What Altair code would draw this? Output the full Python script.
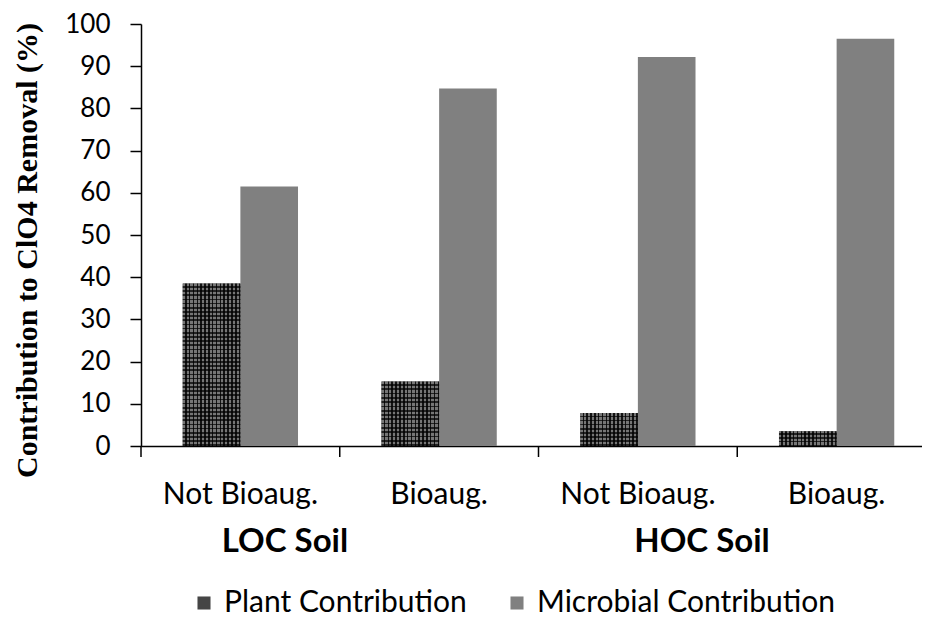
import altair as alt
import pandas as pd

soil = ["LOC Soil", "LOC Soil", "HOC Soil", "HOC Soil"]
treatment = ["Not Bioaug.", "Bioaug.", "Not Bioaug.", "Bioaug."]
plant = [38.5, 15.3, 7.8, 3.5]
microbial = [61.5, 84.7, 92.2, 96.5]
series = ["Plant Contribution", "Microbial Contribution"]
colors = ["#454545", "#808080"]
y_ticks = list(range(0, 101, 10))
group_labels = ["LOC Soil", "HOC Soil"]

keys = [f"{s}|{t}" for s, t in zip(soil, treatment)]
rows = []
for k, s, t, p, m in zip(keys, soil, treatment, plant, microbial):
    rows.append({"key": k, "series": series[0], "value": p})
    rows.append({"key": k, "series": series[1], "value": m})
df = pd.DataFrame(rows)

W, H = 781, 422
STEP = 795 / 4
PAD_IN = 0.42
xscale = alt.Scale(domain=keys, range=[0, 795], paddingInner=PAD_IN, paddingOuter=PAD_IN / 2)
yscale = alt.Scale(domain=[0, 100], nice=False)
xoff_scale = alt.Scale(domain=series, paddingInner=0, paddingOuter=0)
x_axis = alt.Axis(title=None, ticks=False, labelAngle=0,
                  labelExpr="split(datum.label, '|')[1]",
                  labelFont="Lato", labelFontSize=30, labelColor="black",
                  labelPadding=33, domainColor="black", domainWidth=1.5)
y_axis = alt.Axis(values=y_ticks, tickSize=11, tickColor="black", tickWidth=1.5,
                  domainColor="black", domainWidth=1.5, grid=False,
                  labelFont="Lato", labelFontSize=26, labelColor="black",
                  labelPadding=20,
                  title="Contribution to ClO4 Removal (%)",
                  titleFont="Liberation Serif", titleFontSize=30,
                  titleFontWeight="bold", titleColor="black",
                  titleAngle=270, titleX=-114, titleY=226,
                  titleAlign="center", titleBaseline="middle")


def stripes(n, c1, c2, frac, vertical_lines):
    stops = []
    for i in range(n):
        a, b, c = i / n, (i + frac) / n, (i + 1) / n
        stops += [alt.GradientStop(offset=a, color=c1), alt.GradientStop(offset=b, color=c1),
                  alt.GradientStop(offset=b, color=c2), alt.GradientStop(offset=min(c, 1.0), color=c2)]
    if vertical_lines:
        return alt.LinearGradient(gradient="linear", stops=stops, x1=0, y1=0, x2=1, y2=0)
    return alt.LinearGradient(gradient="linear", stops=stops, x1=0, y1=0, x2=0, y2=1)


enc = dict(
    x=alt.X("key:N", scale=xscale, sort=keys, axis=x_axis),
    xOffset=alt.XOffset("series:N", sort=series, scale=xoff_scale),
    y=alt.Y("value:Q", scale=yscale, axis=y_axis),
)

bars = alt.Chart(df).mark_bar().encode(
    **enc,
    color=alt.Color("series:N", sort=series,
                    scale=alt.Scale(domain=series, range=colors),
                    legend=alt.Legend(orient="none", legendX=48, legendY=564,
                                      direction="horizontal", title=None,
                                      symbolType="square", symbolSize=170,
                                      symbolStrokeWidth=0, symbolOpacity=1,
                                      labelFont="Lato", labelFontSize=30,
                                      labelColor="black", labelOffset=5,
                                      labelLimit=600, columnPadding=35)),
)

# cross-hatch texture over the plant bars
vert = alt.Chart(df).transform_filter(alt.datum.series == series[0]).mark_bar(
    color=stripes(15, "#767676", "#141414", 0.6, True)
).encode(**enc)

hatch_layers = []
for k, p in zip(keys, plant):
    n = max(1, round(p * H / 100 / 4.2))
    hatch_layers.append(
        alt.Chart(df).transform_filter(
            (alt.datum.series == series[0]) & (alt.datum.key == k)
        ).mark_bar(color=stripes(n, "rgba(0,0,0,0)", "rgba(0,0,0,0.7)", 0.6, False)).encode(**enc)
    )

band_start = STEP * PAD_IN / 2

ticks_df = pd.DataFrame({"key": keys})
ticks = alt.Chart(ticks_df).mark_rule(color="black", strokeWidth=1.5, xOffset=-band_start).encode(
    x=alt.X("key:N", bandPosition=0, sort=keys, scale=xscale, axis=x_axis),
    y=alt.value(H),
    y2=alt.value(H + 11),
)

grp_df = pd.DataFrame({"key": [keys[0], keys[2]], "label": group_labels})
loc_text = alt.Chart(grp_df).transform_filter(alt.datum.label == group_labels[0]).mark_text(
    font="Lato", fontSize=33, fontWeight="bold", color="black", baseline="middle", align="center",
    dx=144 - band_start
).encode(x=alt.X("key:N", bandPosition=0, sort=keys, scale=xscale, axis=x_axis),
         y=alt.value(H + 96), text="label:N")
hoc_text = alt.Chart(grp_df).transform_filter(alt.datum.label == group_labels[1]).mark_text(
    font="Lato", fontSize=33, fontWeight="bold", color="black", baseline="middle", align="center",
    dx=561 - 2 * STEP - band_start
).encode(x=alt.X("key:N", bandPosition=0, sort=keys, scale=xscale, axis=x_axis),
         y=alt.value(H + 96), text="label:N")

chart = alt.layer(bars, vert, *hatch_layers, ticks, loc_text, hoc_text).properties(
    width=W, height=H,
    autosize=alt.AutoSizeParams(type="none"),
    padding={"left": 133, "top": 16, "right": 0, "bottom": 174},
    background="white",
).configure_view(stroke=None)

chart.save("out.html", embed_options={"renderer": "svg", "actions": False})
